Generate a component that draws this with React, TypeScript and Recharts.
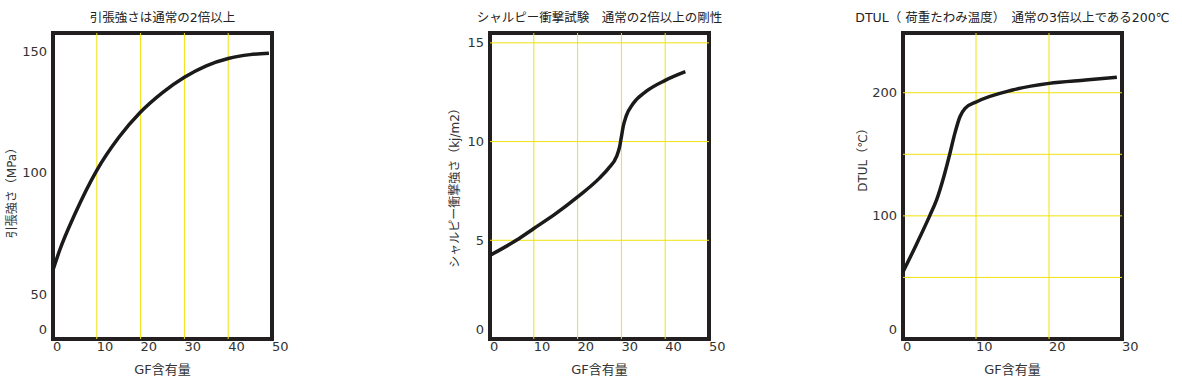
import { LineChart, Line, XAxis, YAxis, ReferenceLine, ReferenceArea } from "recharts";

// 引張強さ
const tensileGf = [0, 1.5, 5, 10, 15, 20, 25, 30, 35, 40, 45, 49.3];
const tensileMpa = [60, 68, 83, 101, 114.5, 125, 133, 139.3, 144, 147, 148.6, 149.2];
const tensileYTicks = [31.6, 50, 100, 150];
const tensileYLabels = ["0", "50", "100", "150"];

// シャルピー衝撃強さ
const impactGf = [0, 6, 10, 15, 20, 25, 27, 28.9, 29.6, 30, 30.4, 31.1, 32.6, 35.7, 40, 44.6];
const impactKj = [4.24, 5.0, 5.6, 6.35, 7.2, 8.15, 8.63, 9.25, 9.74, 10.24, 10.75, 11.3, 11.9, 12.55, 13.1, 13.54];
const impactYTicks = [0, 5, 10, 15];
const impactYLabels = ["0", "5", "10", "15"];

// DTUL
const dtulGf = [0, 1.9, 3.7, 4.6, 5.6, 6.4, 7.1, 7.8, 8.5, 10.1, 15, 20, 25, 29.3];
const dtulC = [54.5, 77.6, 100.6, 113, 132, 150, 167, 180.5, 187.3, 192.7, 202.2, 207.6, 210.3, 212.5];
const dtulYTicks = [0, 100, 200];
const dtulYLabels = ["0", "100", "200"];

const FONT = '"DejaVu Sans", "Noto Sans CJK JP", sans-serif';
const H = 382;
const PLOT_TOP = 33;
const PLOT_BOTTOM = 339;
const Y_AXIS_W = 40;
const X_AXIS_H = 20;
const GRID = "#f0e20c";
const INK = "#231f20";
const TEXT = "#333";

type PanelProps = {
  left: number;
  width: number;
  plotLeft: number;
  plotRight: number;
  xs: number[];
  ys: number[];
  xDomain: [number, number];
  yDomain: [number, number];
  xTicks: number[];
  yTicks: number[];
  yLabels: string[];
  vGrid: number[];
  hGrid: number[];
  title: string;
  yName: string;
  yNameCenter: number;
  yNameX: number;
};

function Panel(p: PanelProps) {
  const data = p.xs.map((x, i) => ({ gf: x, v: p.ys[i] }));
  const margin = {
    top: PLOT_TOP,
    bottom: H - PLOT_BOTTOM - X_AXIS_H,
    left: p.plotLeft - p.left - Y_AXIS_W,
    right: p.left + p.width - p.plotRight,
  };
  const plotCenter = (p.plotLeft + p.plotRight) / 2;

  const renderYTick = (props: any) => {
    const i = p.yTicks.indexOf(props.payload.value);
    return (
      <text
        x={props.x}
        y={i === 0 ? props.y - 10 : props.y}
        dy="0.35em"
        textAnchor="end"
        fontSize={13}
        fontFamily={FONT}
        fill={TEXT}
      >
        {p.yLabels[i]}
      </text>
    );
  };

  const renderXTick = (props: any) => (
    <text x={props.x} y={props.y + 12} textAnchor="start" fontSize={13} fontFamily={FONT} fill={TEXT}>
      {props.payload.value}
    </text>
  );

  return (
    <>
      <div
        style={{
          position: "absolute",
          left: plotCenter,
          top: 16,
          transform: "translate(-50%, -50%)",
          whiteSpace: "nowrap",
          fontSize: 12.5,
          fontFamily: FONT,
          color: "#222",
        }}
      >
        {p.title}
      </div>
      <div
        style={{
          position: "absolute",
          left: p.yNameX,
          top: p.yNameCenter,
          transform: "translate(-50%, -50%) rotate(-90deg)",
          whiteSpace: "nowrap",
          fontSize: 12,
          fontFamily: FONT,
          color: TEXT,
        }}
      >
        {p.yName}
      </div>
      <div
        style={{
          position: "absolute",
          left: plotCenter,
          top: 368,
          transform: "translate(-50%, -50%)",
          whiteSpace: "nowrap",
          fontSize: 13,
          fontFamily: FONT,
          color: TEXT,
        }}
      >
        GF含有量
      </div>
      <div style={{ position: "absolute", left: p.left, top: 0 }}>
        <LineChart width={p.width} height={H} data={data} margin={margin}>
          <XAxis
            dataKey="gf"
            type="number"
            domain={p.xDomain}
            ticks={p.xTicks}
            interval={0}
            axisLine={false}
            tickLine={false}
            tickSize={0}
            tickMargin={0}
            height={X_AXIS_H}
            tick={renderXTick}
            allowDataOverflow
          />
          <YAxis
            type="number"
            domain={p.yDomain}
            ticks={p.yTicks}
            interval={0}
            axisLine={false}
            tickLine={false}
            tickSize={0}
            tickMargin={6}
            width={Y_AXIS_W}
            tick={renderYTick}
            allowDataOverflow
          />
          {p.vGrid.map((g) => (
            <ReferenceLine key={"v" + g} x={g} stroke={GRID} strokeWidth={1} />
          ))}
          {p.hGrid.map((g) => (
            <ReferenceLine key={"h" + g} y={g} stroke={GRID} strokeWidth={1} />
          ))}
          <Line
            type="monotone"
            dataKey="v"
            stroke="#1a1a1a"
            strokeWidth={3.5}
            dot={false}
            activeDot={false}
            isAnimationActive={false}
          />
          <ReferenceArea
            x1={p.xDomain[0]}
            x2={p.xDomain[1]}
            y1={p.yDomain[0]}
            y2={p.yDomain[1]}
            fill="none"
            fillOpacity={0}
            stroke={INK}
            strokeWidth={4}
          />
        </LineChart>
      </div>
    </>
  );
}

export default function App() {
  return (
    <div
      style={{
        position: "absolute",
        left: 0,
        top: 0,
        width: 1182,
        height: H,
        background: "#fff",
        overflow: "hidden",
      }}
    >
      <Panel
        left={0}
        width={300}
        plotLeft={53}
        plotRight={272}
        xs={tensileGf}
        ys={tensileMpa}
        xDomain={[0, 50]}
        yDomain={[31.6, 157.5]}
        xTicks={[0, 10, 20, 30, 40, 50]}
        yTicks={tensileYTicks}
        yLabels={tensileYLabels}
        vGrid={[10, 20, 30, 40]}
        hGrid={[]}
        title="引張強さは通常の2倍以上"
        yName="引張強さ（MPa）"
        yNameCenter={190}
        yNameX={10}
      />
      <Panel
        left={420}
        width={320}
        plotLeft={490}
        plotRight={709}
        xs={impactGf}
        ys={impactKj}
        xDomain={[0, 50]}
        yDomain={[0, 15.5]}
        xTicks={[0, 10, 20, 30, 40, 50]}
        yTicks={impactYTicks}
        yLabels={impactYLabels}
        vGrid={[10, 20, 30, 40]}
        hGrid={[5, 10, 15]}
        title="シャルピー衝撃試験　通常の2倍以上の剛性"
        yName="シャルピー衝撃強さ（kj/m2）"
        yNameCenter={185}
        yNameX={453}
      />
      <Panel
        left={840}
        width={342}
        plotLeft={903}
        plotRight={1122}
        xs={dtulGf}
        ys={dtulC}
        xDomain={[0, 30]}
        yDomain={[0, 248.5]}
        xTicks={[0, 10, 20, 30]}
        yTicks={dtulYTicks}
        yLabels={dtulYLabels}
        vGrid={[10, 20]}
        hGrid={[50, 100, 150, 200]}
        title="DTUL（ 荷重たわみ温度）　通常の3倍以上である200℃"
        yName="DTUL（℃）"
        yNameCenter={157}
        yNameX={861}
      />
    </div>
  );
}
